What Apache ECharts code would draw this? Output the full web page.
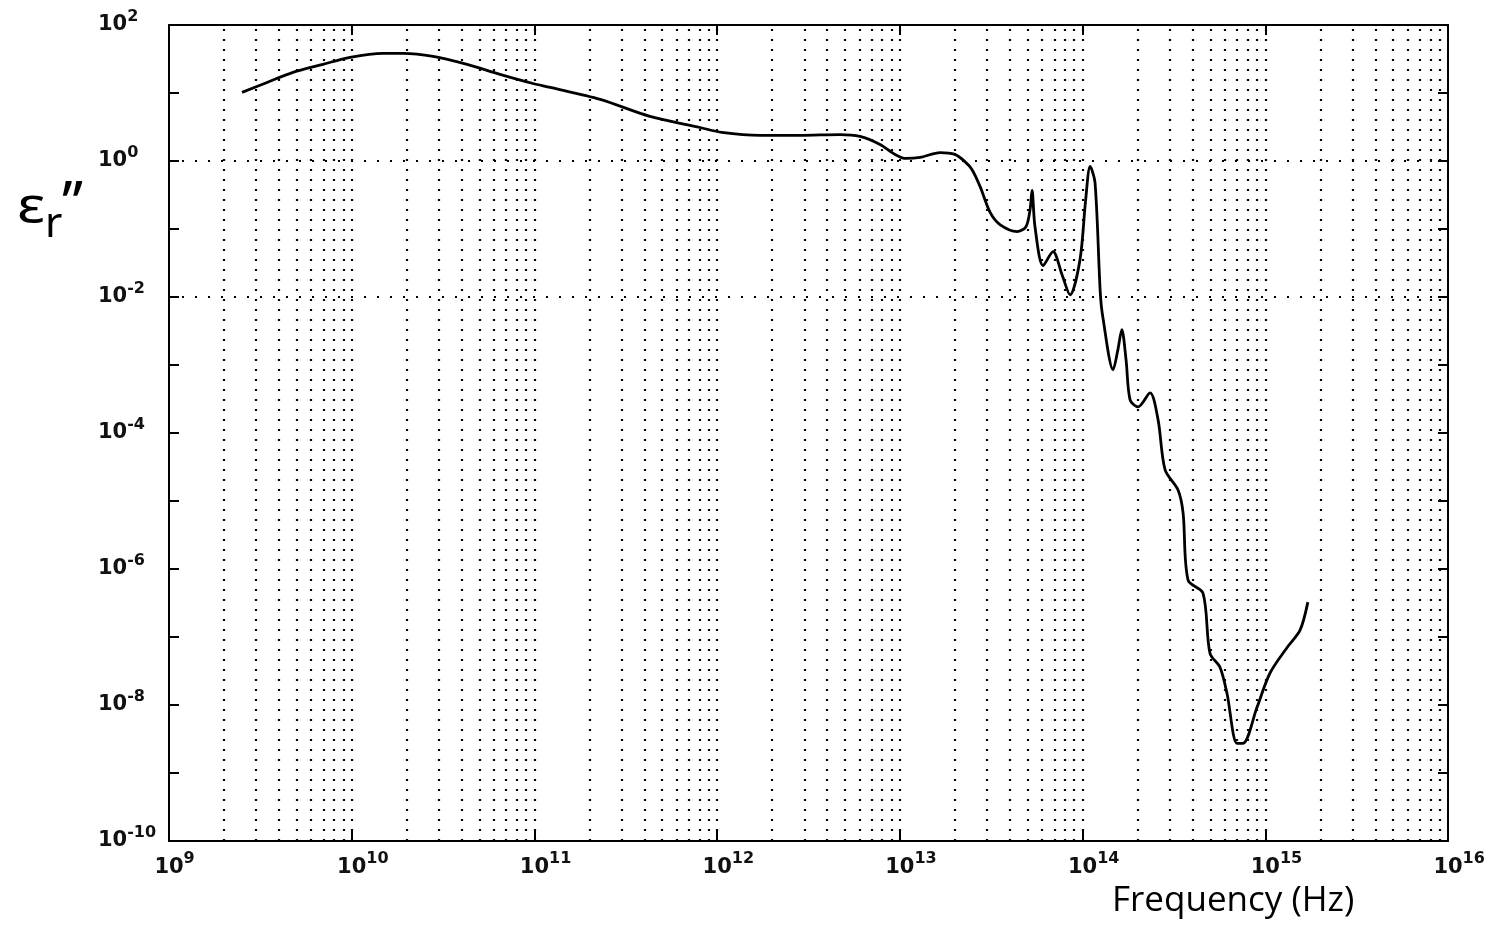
<!DOCTYPE html>
<html>
<head>
<meta charset="utf-8">
<title>Imaginary permittivity vs frequency</title>
<script src="https://cdn.jsdelivr.net/npm/echarts@6/dist/echarts.min.js"></script>
<style>
  html, body { margin: 0; padding: 0; background: #fff; }
  #chart { width: 1496px; height: 934px; }
</style>
</head>
<body>
<div id="chart"></div>
<script>
// curve: frequency in Hz, eps_r'' (dimensionless)
const freq = [
  2.51e9, 3.44e9, 4.77e9, 6.96e9, 9.79e9, 1.48e10, 1.91e10, 2.79e10, 4.28e10, 6.48e10,
  9.82e10, 1.22e11, 2.29e11, 4.29e11, 8.06e11, 1.06e12, 1.72e12, 2.84e12, 4.70e12, 6.05e12,
  7.79e12, 9.41e12, 1.08e13, 1.29e13, 1.66e13, 2.00e13, 2.27e13, 2.48e13, 2.75e13, 3.12e13,
  3.53e13, 4.38e13, 4.90e13, 5.16e13, 5.29e13, 5.49e13, 6.08e13, 6.89e13, 7.72e13, 8.54e13,
  9.68e13, 1.04e14, 1.10e14, 1.17e14, 1.25e14, 1.29e14, 1.47e14, 1.56e14, 1.64e14, 1.73e14,
  1.82e14, 2.01e14, 2.34e14, 2.59e14, 2.83e14, 3.33e14, 3.55e14, 3.78e14, 4.56e14, 4.98e14,
  5.65e14, 6.17e14, 7.00e14, 7.55e14, 9.01e14, 1.06e15, 1.32e15, 1.55e15, 1.71e15
];
const epsImag = [
  10.2, 14.3, 20.1, 26.4, 33.4, 38.3, 38.3, 34.6, 26.4, 18.8,
  13.8, 12.1, 8.05, 4.52, 3.11, 2.63, 2.38, 2.38, 2.45, 2.30,
  1.75, 1.25, 1.09, 1.13, 1.33, 1.25, 0.98, 0.75, 0.42, 0.175,
  0.116, 0.0916, 0.108, 0.193, 0.368, 0.108, 0.0289, 0.0465, 0.0213, 0.0108,
  0.0354, 0.271, 0.83, 0.482, 0.0116, 5.13e-3, 8.49e-4, 1.67e-3, 3.30e-3, 1.19e-3,
  3.07e-4, 2.42e-4, 3.90e-4, 1.56e-4, 2.86e-5, 1.45e-5, 6.65e-6, 6.85e-7, 4.42e-7, 5.77e-8,
  3.59e-8, 1.49e-8, 2.73e-9, 2.73e-9, 9.25e-9, 2.93e-8, 7.08e-8, 1.26e-7, 3.26e-7
];

// axis ranges and labelled decades
const xMin = 1e9, xMax = 1e16;
const yMin = 1e-10, yMax = 1e2;
const yLabelStep = 2;            // only every second decade is labelled
const hGridValues = [1, 1e-2, 1e-4, 1e-6, 1e-8];
const minorMultipliers = [1, 2, 3, 4, 5, 6, 7, 8, 9];

// vertical dotted grid at 1..9 x 10^n
const vGridValues = [];
for (let e = 9; e < 16; e++) {
  minorMultipliers.forEach(m => {
    const v = m * Math.pow(10, e);
    if (v > xMin) vGridValues.push(v);
  });
}

const expOf = v => Math.round(Math.log10(v));
const expText = e => (e < 0 ? '-' + (-e) : String(e));

// base text "10", exponent as a raised rich token
const supFont = { fontFamily: 'DejaVu Sans', fontWeight: 'bold', fontSize: 16 };
const labelFont = {
  fontFamily: 'DejaVu Sans',
  fontWeight: 'bold',
  fontSize: 21,
  color: '#111',
  rich: {
    s: Object.assign({ color: '#111', padding: [0, 0, 17, 0] }, supFont),
    // invisible copy of the exponent so "10" sits centred on the tick
    h: Object.assign({ color: 'rgba(0,0,0,0)' }, supFont)
  }
};

const chart = echarts.init(document.getElementById('chart'));

const axisLineStyle = { color: '#000', width: 2 };

const option = {
  backgroundColor: '#fff',
  animation: false,
  grid: { left: 169, right: 48, top: 25, bottom: 93 },
  xAxis: [
    {
      type: 'log', logBase: 10, min: xMin, max: xMax, interval: 1,
      axisLine: { show: true, onZero: false, lineStyle: axisLineStyle },
      axisTick: { show: true, inside: true, length: 10, lineStyle: axisLineStyle },
      axisLabel: Object.assign({
        margin: 10,
        formatter: v => {
          const t = expText(expOf(v));
          return '{h|' + t + '}10{s|' + t + '}';
        }
      }, labelFont),
      splitLine: { show: false }
    },
    {
      type: 'log', logBase: 10, min: xMin, max: xMax, interval: 1, position: 'top',
      axisLine: { show: true, onZero: false, lineStyle: axisLineStyle },
      axisTick: { show: true, inside: true, length: 10, lineStyle: axisLineStyle },
      axisLabel: { show: false },
      splitLine: { show: false }
    }
  ],
  yAxis: [
    {
      type: 'log', logBase: 10, min: yMin, max: yMax, interval: 1,
      axisLine: { show: true, onZero: false, lineStyle: axisLineStyle },
      axisTick: { show: true, inside: true, length: 10, lineStyle: axisLineStyle },
      axisLabel: Object.assign({
        margin: 71, align: 'left',
        formatter: v => {
          const e = expOf(v);
          return e % yLabelStep === 0 ? '10{s|' + expText(e) + '}' : '';
        }
      }, labelFont),
      splitLine: { show: false }
    },
    {
      type: 'log', logBase: 10, min: yMin, max: yMax, interval: 1, position: 'right',
      axisLine: { show: true, onZero: false, lineStyle: axisLineStyle },
      axisTick: { show: true, inside: true, length: 10, lineStyle: axisLineStyle },
      axisLabel: { show: false },
      splitLine: { show: false }
    }
  ],
  series: [
    {
      name: 'grid',
      type: 'line',
      data: [],
      silent: true,
      markLine: {
        silent: true,
        symbol: 'none',
        animation: false,
        label: { show: false },
        data: [
          ...vGridValues.map(v => ({ xAxis: v, lineStyle: { color: '#000', width: 2.2, type: [2, 8] } })),
          ...hGridValues.map(v => ({ yAxis: v, lineStyle: { color: '#000', width: 2.2, type: [2, 11] } }))
        ]
      }
    },
    {
      name: "eps_r''",
      type: 'line',
      data: freq.map((f, i) => [f, epsImag[i]]),
      showSymbol: false,
      smooth: 0.3,
      lineStyle: { color: '#000', width: 2.8 },
      z: 5
    }
  ],
  graphic: [
    {
      type: 'text', left: 1112, top: 884,
      style: { text: 'Frequency (Hz)', font: '35px "Open Sans"', fill: '#000' }
    },
    {
      type: 'text', left: 17, top: 184, scaleX: 1.2,
      style: { text: '\u03b5', font: '50px "Noto Sans"', fill: '#000' }
    },
    {
      type: 'text', left: 45, top: 204,
      style: { text: 'r', font: '42px "Noto Sans"', fill: '#000' }
    },
    {
      type: 'text', left: 62, top: 177,
      style: { text: '\u2019\u2019', font: '60px "Noto Sans"', fill: '#000' }
    }
  ]
};

chart.setOption(option);
</script>
</body>
</html>
